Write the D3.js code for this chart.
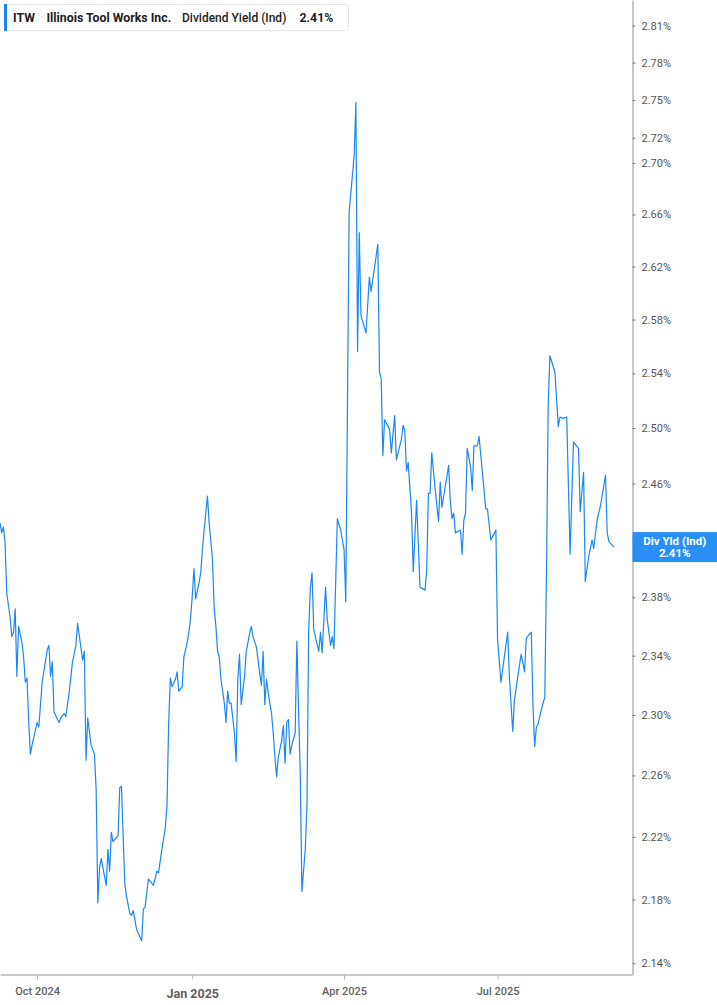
<!DOCTYPE html>
<html>
<head>
<meta charset="utf-8">
<script src="https://cdn.jsdelivr.net/npm/d3@7"></script>
<style>
    body { margin: 0; background: #fff; font-family: Roboto, "Noto Sans", sans-serif; }
    svg { display: block; }
</style>
</head>
<body>
<div id="chartDiv"></div>
<script>
const dates = [
    "2024-09-09","2024-09-10","2024-09-11","2024-09-12","2024-09-13","2024-09-15","2024-09-16","2024-09-17","2024-09-18","2024-09-19",
    "2024-09-20","2024-09-22","2024-09-23","2024-09-24","2024-09-25","2024-09-26","2024-09-27","2024-09-28","2024-10-01","2024-10-02",
    "2024-10-04","2024-10-07","2024-10-08","2024-10-09","2024-10-10","2024-10-11","2024-10-14","2024-10-15","2024-10-17","2024-10-18",
    "2024-10-20","2024-10-22","2024-10-24","2024-10-25","2024-10-28","2024-10-29","2024-10-30","2024-10-31","2024-11-02","2024-11-04",
    "2024-11-05","2024-11-06","2024-11-07","2024-11-08","2024-11-11","2024-11-12","2024-11-13","2024-11-14","2024-11-15","2024-11-18",
    "2024-11-19","2024-11-20","2024-11-22","2024-11-23","2024-11-25","2024-11-26","2024-11-27","2024-11-29","2024-12-02","2024-12-03",
    "2024-12-04","2024-12-06","2024-12-09","2024-12-11","2024-12-12","2024-12-14","2024-12-16","2024-12-17","2024-12-18","2024-12-19",
    "2024-12-20","2024-12-22","2024-12-23","2024-12-24","2024-12-26","2024-12-27","2024-12-29","2024-12-30","2024-12-31","2025-01-01",
    "2025-01-02","2025-01-03","2025-01-05","2025-01-06","2025-01-07","2025-01-08","2025-01-10","2025-01-11","2025-01-13","2025-01-14",
    "2025-01-15","2025-01-16","2025-01-17","2025-01-18","2025-01-20","2025-01-21","2025-01-22","2025-01-23","2025-01-24","2025-01-26",
    "2025-01-27","2025-01-28","2025-01-29","2025-01-30","2025-02-01","2025-02-02","2025-02-04","2025-02-05","2025-02-06","2025-02-08",
    "2025-02-09","2025-02-10","2025-02-11","2025-02-12","2025-02-13","2025-02-14","2025-02-15","2025-02-17","2025-02-18","2025-02-19",
    "2025-02-20","2025-02-21","2025-02-23","2025-02-24","2025-02-25","2025-02-26","2025-02-27","2025-02-28","2025-03-01","2025-03-03",
    "2025-03-04","2025-03-05","2025-03-06","2025-03-07","2025-03-09","2025-03-10","2025-03-11","2025-03-12","2025-03-13","2025-03-14",
    "2025-03-17","2025-03-18","2025-03-19","2025-03-21","2025-03-22","2025-03-24","2025-03-25","2025-03-26","2025-03-28","2025-03-30",
    "2025-04-01","2025-04-02","2025-04-04","2025-04-07","2025-04-08","2025-04-09","2025-04-10","2025-04-11","2025-04-14","2025-04-16",
    "2025-04-17","2025-04-21","2025-04-22","2025-04-23","2025-04-24","2025-04-25","2025-04-28","2025-04-29","2025-05-01","2025-05-02",
    "2025-05-05","2025-05-06","2025-05-07","2025-05-08","2025-05-09","2025-05-11","2025-05-12","2025-05-14","2025-05-16","2025-05-19",
    "2025-05-20","2025-05-21","2025-05-22","2025-05-23","2025-05-25","2025-05-27","2025-05-28","2025-05-29","2025-05-31","2025-06-02",
    "2025-06-03","2025-06-04","2025-06-05","2025-06-06","2025-06-09","2025-06-10","2025-06-11","2025-06-12","2025-06-13","2025-06-15",
    "2025-06-16","2025-06-17","2025-06-19","2025-06-20","2025-06-22","2025-06-24","2025-06-25","2025-06-27","2025-06-30","2025-07-01",
    "2025-07-03","2025-07-05","2025-07-07","2025-07-08","2025-07-10","2025-07-11","2025-07-13","2025-07-15","2025-07-17","2025-07-18",
    "2025-07-21","2025-07-22","2025-07-23","2025-07-24","2025-07-25","2025-07-27","2025-07-29","2025-07-30","2025-07-31","2025-08-01",
    "2025-08-04","2025-08-06","2025-08-07","2025-08-09","2025-08-11","2025-08-13","2025-08-15","2025-08-18","2025-08-19","2025-08-21",
    "2025-08-22","2025-08-24","2025-08-26","2025-08-27","2025-08-29","2025-08-31","2025-09-03","2025-09-04","2025-09-05","2025-09-08"
]

const yields = [
    2.432,2.425,2.429,2.418,2.383,2.366,2.353,2.356,2.372,2.326,
    2.360,2.349,2.339,2.322,2.325,2.296,2.274,2.280,2.295,2.292,
    2.322,2.344,2.347,2.326,2.336,2.302,2.295,2.298,2.301,2.299,
    2.315,2.336,2.347,2.362,2.337,2.343,2.270,2.298,2.280,2.274,
    2.251,2.178,2.200,2.206,2.189,2.212,2.198,2.223,2.217,2.221,
    2.252,2.253,2.190,2.182,2.171,2.170,2.173,2.161,2.154,2.174,
    2.175,2.193,2.189,2.198,2.197,2.212,2.226,2.240,2.295,2.325,
    2.319,2.324,2.329,2.316,2.319,2.339,2.349,2.356,2.366,2.381,
    2.400,2.379,2.390,2.397,2.413,2.427,2.451,2.432,2.406,2.372,
    2.360,2.343,2.339,2.324,2.308,2.295,2.316,2.308,2.308,2.288,
    2.269,2.324,2.341,2.307,2.326,2.343,2.355,2.360,2.353,2.346,
    2.337,2.328,2.320,2.343,2.307,2.324,2.315,2.301,2.288,2.272,
    2.259,2.272,2.283,2.293,2.268,2.295,2.297,2.274,2.280,2.288,
    2.350,2.304,2.262,2.185,2.212,2.241,2.356,2.387,2.397,2.358,
    2.343,2.356,2.342,2.387,2.365,2.347,2.353,2.345,2.435,2.427,
    2.413,2.377,2.662,2.706,2.748,2.556,2.646,2.583,2.570,2.612,
    2.601,2.637,2.541,2.536,2.480,2.506,2.499,2.482,2.509,2.477,
    2.492,2.502,2.498,2.469,2.475,2.439,2.398,2.448,2.387,2.385,
    2.399,2.453,2.453,2.482,2.456,2.433,2.461,2.443,2.458,2.473,
    2.447,2.435,2.439,2.425,2.427,2.410,2.434,2.439,2.485,2.472,
    2.455,2.487,2.487,2.494,2.468,2.442,2.442,2.420,2.427,2.351,
    2.322,2.339,2.356,2.326,2.289,2.310,2.326,2.341,2.329,2.352,
    2.356,2.306,2.279,2.292,2.294,2.304,2.312,2.397,2.516,2.553,
    2.541,2.501,2.508,2.507,2.508,2.410,2.490,2.485,2.440,2.468,
    2.391,2.408,2.420,2.414,2.434,2.444,2.466,2.425,2.419,2.415
]

const yTickValues = [2.14, 2.18, 2.22, 2.26, 2.30, 2.34, 2.38, 2.42, 2.46, 2.50, 2.54, 2.58, 2.62, 2.66, 2.70, 2.72, 2.75, 2.78, 2.81]
const xTickDates = ["2024-10-01", "2025-01-01", "2025-04-01", "2025-07-01"]
const xTickLabels = ["Oct 2024", "Jan 2025", "Apr 2025", "Jul 2025"]

const ticker = "ITW"
const companyName = "Illinois Tool Works Inc."
const metricName = "Dividend Yield (Ind)"
const shortMetric = "Div Yld (Ind)"
const lastValueText = "2.41%"

const width = 717
const height = 1005
const plotRight = 632.5
const plotBottom = 974.5
const lineColor = "#1a87f4"

const parseDate = d3.utcParse("%Y-%m-%d")
const data = dates.map((d, i) => ({ date: parseDate(d), value: yields[i] }))

const svg = d3.select("#chartDiv")
    .append("svg")
    .attr("width", width)
    .attr("height", height)

const xScale = d3.scaleUtc()
    .domain([parseDate("2024-09-09"), parseDate("2025-09-19")])
    .range([0, plotRight])

const yScale = d3.scaleLog()
    .domain([2.133, 2.831])
    .range([plotBottom, 0])

const last = data[data.length - 1]
const tagY = yScale(last.value)

// x-axis
const bottomAxis = d3.axisBottom(xScale)
    .tickValues(xTickDates.map(parseDate))
    .tickFormat((d, i) => xTickLabels[i])
    .tickSize(5)
    .tickSizeOuter(0)
    .tickPadding(8)

const bottomAxisGroup = svg.append("g")
    .attr("class", "bottomAxis")
    .attr("transform", `translate(0,${plotBottom})`)
    .call(bottomAxis)

bottomAxisGroup.select(".domain").attr("stroke", "#b4b4b4").attr("stroke-width", 1.5)
bottomAxisGroup.selectAll(".tick line").attr("stroke", "#b4b4b4")
bottomAxisGroup.selectAll(".tick text")
    .attr("fill", "#5f5f5f")
    .style("font-family", "Roboto, sans-serif")
    .style("font-size", d => d.getUTCMonth() === 0 ? "12.5px" : "11px")
    .style("font-weight", d => d.getUTCMonth() === 0 ? "700" : "500")
    .attr("dy", d => d.getUTCMonth() === 0 ? "0.85em" : "0.71em")

// y-axis on the right; the label under the value tag is left out
const rightAxis = d3.axisRight(yScale)
    .tickValues(yTickValues)
    .tickFormat(d => Math.abs(yScale(d) - tagY) < 16 ? "" : d.toFixed(2) + "%")
    .tickSize(3)
    .tickSizeOuter(0)
    .tickPadding(6)

const rightAxisGroup = svg.append("g")
    .attr("class", "rightAxis")
    .attr("transform", `translate(${plotRight},0)`)
    .call(rightAxis)

rightAxisGroup.select(".domain").attr("stroke", "#b4b4b4").attr("stroke-width", 1.5)
rightAxisGroup.selectAll(".tick line").attr("stroke", "#777")
rightAxisGroup.selectAll(".tick text")
    .attr("fill", "#555")
    .style("font-family", "Roboto, sans-serif")
    .style("font-size", "11px")

// the series
const line = d3.line()
    .x(d => xScale(d.date))
    .y(d => yScale(d.value))

svg.append("path")
    .datum(data)
    .attr("fill", "none")
    .attr("stroke", lineColor)
    .attr("stroke-width", 1.2)
    .attr("stroke-linejoin", "round")
    .attr("d", line)

// last value tag
const tag = svg.append("g").attr("class", "valueTag")

tag.append("rect")
    .attr("x", plotRight)
    .attr("y", tagY - 15)
    .attr("width", width - plotRight)
    .attr("height", 30)
    .attr("fill", "#2a8ff5")

tag.append("text")
    .attr("x", plotRight + (width - plotRight) / 2)
    .attr("y", tagY - 2.5)
    .attr("text-anchor", "middle")
    .attr("fill", "#fff")
    .style("font-size", "11.5px")
    .style("font-weight", "700")
    .text(shortMetric)

tag.append("text")
    .attr("x", plotRight + (width - plotRight) / 2)
    .attr("y", tagY + 10)
    .attr("text-anchor", "middle")
    .attr("fill", "#fff")
    .style("font-size", "11.5px")
    .style("font-weight", "700")
    .text(lastValueText)

// legend box
const legend = svg.append("g").attr("class", "legend")

legend.append("rect")
    .attr("x", 4.5)
    .attr("y", 4.5)
    .attr("width", 344)
    .attr("height", 26)
    .attr("rx", 3)
    .attr("fill", "#fff")
    .attr("stroke", "#e6e6e6")

legend.append("rect")
    .attr("x", 4)
    .attr("y", 4)
    .attr("width", 3)
    .attr("height", 27)
    .attr("fill", lineColor)

const legendItems = [
    { text: ticker, x: 13, weight: 700 },
    { text: companyName, x: 46.5, weight: 700 },
    { text: metricName, x: 182, weight: 500 },
    { text: lastValueText, x: 299.5, weight: 700 }
]

legend.selectAll(".legendText")
    .data(legendItems)
    .enter()
    .append("text")
    .attr("class", "legendText")
    .attr("x", d => d.x)
    .attr("y", 21.5)
    .attr("fill", "#1d1d1d")
    .style("font-size", d => d.weight === 700 ? "12.3px" : "12px")
    .style("font-weight", d => d.weight)
    .text(d => d.text)
</script>
</body>
</html>
